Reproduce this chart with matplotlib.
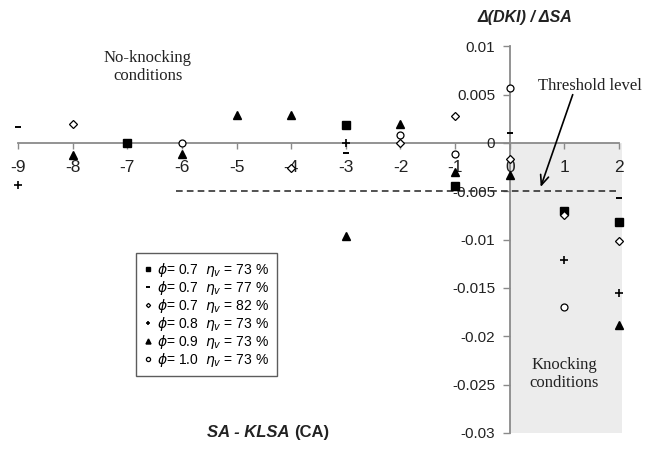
import matplotlib
matplotlib.use("Agg")
import matplotlib.pyplot as plt

# ---- data: Δ(DKI)/ΔSA versus SA - KLSA for each operating condition ----
x_p07_e73 = [-7, -3, -1, 1, 2]
y_p07_e73 = [0.0000, 0.0019, -0.0045, -0.0070, -0.0082]

x_p07_e77 = [-9, -3, 0, 1, 2]
y_p07_e77 = [0.0017, -0.0010, 0.0010, -0.0071, -0.0057]

x_p07_e82 = [-8, -4, -2, -1, 0, 1, 2]
y_p07_e82 = [0.0020, -0.0026, 0.0000, 0.0028, -0.0017, -0.0075, -0.0101]

x_p08_e73 = [-9, -3, 1, 2]
y_p08_e73 = [-0.0043, 0.0000, -0.0121, -0.0155]

x_p09_e73 = [-8, -6, -5, -4, -3, -2, -1, 0, 2]
y_p09_e73 = [-0.0012, -0.0011, 0.0029, 0.0029, -0.0096, 0.0020, -0.0030, -0.0033, -0.0188]

x_p10_e73 = [-6, -2, -1, 0, 1]
y_p10_e73 = [0.0000, 0.0008, -0.0011, 0.0057, -0.0170]

series_labels = [
    r"$\phi$= 0.7  $\eta_v$ = 73 %",
    r"$\phi$= 0.7  $\eta_v$ = 77 %",
    r"$\phi$= 0.7  $\eta_v$ = 82 %",
    r"$\phi$= 0.8  $\eta_v$ = 73 %",
    r"$\phi$= 0.9  $\eta_v$ = 73 %",
    r"$\phi$= 1.0  $\eta_v$ = 73 %",
]

x_ticks = [-9, -8, -7, -6, -5, -4, -3, -2, -1, 0, 1, 2]
y_ticks = [0.01, 0.005, 0, -0.005, -0.01, -0.015, -0.02, -0.025, -0.03]
y_tick_labels = ["0.01", "0.005", "0", "-0.005", "-0.01", "-0.015", "-0.02", "-0.025", "-0.03"]

threshold = -0.005
threshold_start = -6.1
knock_zone = (0, 2.05)

# ---- figure ----
plt.rcParams["font.family"] = ["Liberation Sans", "DejaVu Sans"]
plt.rcParams["mathtext.fontset"] = "dejavusans"

fig = plt.figure(figsize=(6.45, 4.53), dpi=100)
ax = fig.add_axes([0, 0, 1, 1])
ax.set_xlim(-9.329, 2.476)
ax.set_ylim(-0.03207, 0.01479)
ax.patch.set_alpha(0)

axis_grey = "#8a8a8a"
for side in ("top", "right"):
    ax.spines[side].set_visible(False)
ax.spines["left"].set_position(("data", 0))
ax.spines["bottom"].set_position(("data", 0))
ax.spines["left"].set_bounds(-0.03, 0.01)
ax.spines["bottom"].set_bounds(-9, 2)
for side in ("left", "bottom"):
    ax.spines[side].set_color(axis_grey)
    ax.spines[side].set_linewidth(1.3)
    ax.spines[side].set_zorder(1)

ax.set_xticks(x_ticks)
ax.set_xticklabels([str(v) for v in x_ticks])
ax.set_yticks(y_ticks)
ax.set_yticklabels(y_tick_labels)
ax.tick_params(axis="x", direction="out", length=4, width=1, color=axis_grey,
               pad=8.5, labelsize=12.5, labelcolor="#222222")
ax.tick_params(axis="y", direction="out", length=5, width=1, color=axis_grey,
               pad=5.5, labelsize=11, labelcolor="#222222")

# knocking region
ax.fill_between(knock_zone, -0.03, 0, color="#ececec", zorder=0, linewidth=0)

# threshold line
ax.plot([threshold_start, 2], [threshold, threshold], color="#333333",
        linestyle=(0, (4, 2.5)), linewidth=1.2, zorder=2)

# data series
mk = dict(linestyle="none", zorder=4)
ax.plot(x_p07_e73, y_p07_e73, marker="s", ms=5.2, color="black", mec="black", label=series_labels[0], **mk)
ax.plot(x_p07_e77, y_p07_e77, marker="_", ms=4.5, mew=1.4, color="black", label=series_labels[1], **mk)
ax.plot(x_p07_e82, y_p07_e82, marker="D", ms=3.6, mew=0.9, mfc="white", mec="black", label=series_labels[2], **mk)
ax.plot(x_p08_e73, y_p08_e73, marker="+", ms=5.5, mew=1.2, color="black", label=series_labels[3], **mk)
ax.plot(x_p09_e73, y_p09_e73, marker="^", ms=6, color="black", label=series_labels[4], **mk)
ax.plot(x_p10_e73, y_p10_e73, marker="o", ms=5, mew=0.9, mfc="white", mec="black", label=series_labels[5], **mk)

leg = ax.legend(loc="upper left", bbox_to_anchor=(0.211, 0.4415), borderaxespad=0,
                fontsize=10, markerscale=0.6, handlelength=0.6, handletextpad=0.35,
                labelspacing=0.0, borderpad=0.55, fancybox=False, frameon=True)
leg.get_frame().set_edgecolor("#333333")
leg.get_frame().set_linewidth(1.0)

# axis titles
ax.text(0.27, 0.0130, "Δ(DKI) / ΔSA", fontsize=11.5, fontweight="bold", style="italic",
        ha="center", va="center", color="#222222")
t1 = ax.text(-3.95, -0.0300, "SA - KLSA ", fontsize=12, fontweight="bold", style="italic",
             ha="right", va="center", color="#222222")
ax.annotate("(CA)", xy=(1, 0.5), xycoords=t1, fontsize=12, fontweight="bold",
            ha="left", va="center", color="#222222")

# annotations
serif = ["Liberation Serif", "DejaVu Serif"]
ax.text(-6.62, 0.0079, "No-knocking\nconditions", family=serif, fontsize=12,
        ha="center", va="center", linespacing=1.15, color="#222222")
ax.text(0.52, 0.0059, "Threshold level", family=serif, fontsize=12,
        ha="left", va="center", color="#222222")
ax.text(1.0, -0.0239, "Knocking\nconditions", family=serif, fontsize=12,
        ha="center", va="center", linespacing=1.15, color="#222222")
ax.annotate("", xy=(0.567, -0.00455), xytext=(1.153, 0.0050),
            arrowprops=dict(arrowstyle="->,head_length=0.7,head_width=0.3",
                            color="black", lw=1.2, shrinkA=0, shrinkB=0), zorder=5)

fig.savefig("out.png", dpi=100)
